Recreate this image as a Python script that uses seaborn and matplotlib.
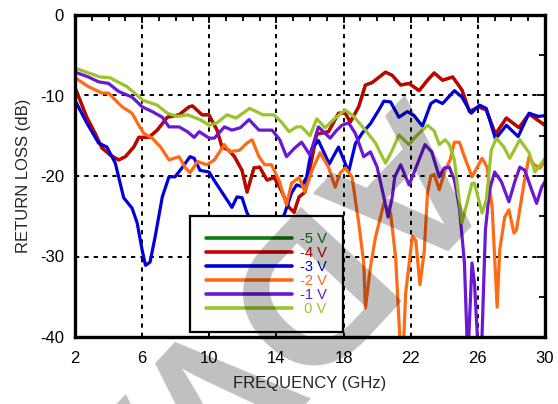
import matplotlib
matplotlib.use("Agg")
import matplotlib.pyplot as plt
import seaborn as sns
import pandas as pd
from matplotlib.ticker import MultipleLocator

# Return loss of the varactor-tuned device versus frequency, for each bias voltage
bias_labels = ["-5 V", "-4 V", "-3 V", "-2 V", "-1 V", " 0 V"]
bias_colors = ["#0f7a0f", "#c80000", "#0000d8", "#ff6a14", "#6a18d2", "#99c42c"]

freq_m5 = [2.0, 2.7, 3.2, 3.6, 4.1, 4.6, 5.0, 5.5, 5.8, 6.4, 6.9, 7.5, 8.2, 8.8, 9.0, 9.57, 9.98,
           10.46, 10.76, 11.17, 11.5, 11.95, 12.25, 12.66, 13.0, 13.44, 13.86, 14.2, 14.75, 15.05,
           15.35, 15.7, 16.0, 16.4, 17.1, 17.7, 18.1, 18.4, 18.9, 19.3, 19.7, 20.5, 20.9, 21.4,
           21.9, 22.5, 23.0, 23.4, 23.9, 24.5, 25.05, 25.5, 26.05, 26.5, 27.05, 27.7, 28.45,
           29.05, 30.0]
loss_m5 = [-9.0, -12.7, -14.7, -16.5, -17.4, -18.0, -17.6, -16.4, -15.2, -15.2, -14.3, -12.7,
           -12.4, -11.4, -11.3, -12.4, -12.4, -14.3, -16.4, -16.8, -17.6, -19.3, -22.0, -19.0,
           -18.9, -20.5, -20.2, -21.4, -23.9, -24.5, -22.6, -22.0, -19.0, -14.8, -14.5, -12.2,
           -12.2, -13.3, -11.4, -8.7, -8.4, -7.1, -7.5, -8.7, -8.5, -9.4, -8.1, -7.2, -8.1,
           -7.7, -9.3, -12.0, -11.4, -11.8, -14.8, -12.8, -14.0, -12.3, -13.7]

freq_m4 = [2.0, 2.7, 3.2, 3.6, 4.1, 4.6, 5.0, 5.5, 5.8, 6.4, 6.9, 7.5, 8.2, 8.8, 9.0, 9.57, 9.98,
           10.46, 10.76, 11.17, 11.5, 11.95, 12.25, 12.66, 13.0, 13.44, 13.86, 14.2, 14.75, 15.05,
           15.35, 15.7, 16.0, 16.4, 17.1, 17.7, 18.1, 18.4, 18.9, 19.3, 19.7, 20.5, 20.9, 21.4,
           21.9, 22.5, 23.0, 23.4, 23.9, 24.5, 25.05, 25.5, 26.05, 26.5, 27.05, 27.7, 28.45,
           29.05, 30.0]
loss_m4 = [-9.0, -12.7, -14.7, -16.5, -17.4, -18.0, -17.6, -16.4, -15.2, -15.2, -14.3, -12.7,
           -12.4, -11.4, -11.3, -12.4, -12.4, -14.3, -16.4, -16.8, -17.6, -19.3, -22.0, -19.0,
           -18.9, -20.5, -20.2, -21.4, -23.9, -24.5, -22.6, -22.0, -19.0, -14.8, -14.5, -12.2,
           -12.2, -13.3, -11.4, -8.7, -8.4, -7.1, -7.5, -8.7, -8.5, -9.4, -8.1, -7.2, -8.1,
           -7.7, -9.3, -12.0, -11.4, -11.8, -14.8, -12.8, -14.0, -12.3, -13.7]

freq_m3 = [2.0, 2.7, 3.4, 3.9, 4.4, 4.9, 5.4, 5.7, 6.0, 6.2, 6.47, 6.77, 7.2, 7.6, 7.96, 8.37,
           8.85, 9.1, 9.45, 9.98, 10.34, 10.94, 11.35, 11.65, 11.95, 12.25, 12.8, 13.5, 14.2,
           14.5, 14.9, 15.2, 15.5, 15.8, 16.1, 16.5, 17.15, 17.7, 18.3, 18.7, 19.1, 19.6, 20.1,
           20.4, 20.8, 21.3, 21.8, 22.2, 22.7, 23.2, 23.5, 23.9, 24.6, 25.05, 25.6, 26.1, 26.5,
           27.05, 27.7, 28.4, 29.05, 29.6, 30.0]
loss_m3 = [-10.6, -13.4, -15.9, -16.4, -18.4, -22.7, -24.0, -25.8, -29.2, -31.1, -30.7, -27.6,
           -22.6, -20.1, -20.1, -19.0, -17.6, -17.8, -19.3, -19.5, -20.7, -22.6, -23.9, -22.6,
           -22.7, -24.6, -26.5, -27.0, -26.0, -24.6, -22.1, -21.1, -21.3, -20.1, -16.6, -15.6,
           -18.5, -16.4, -19.5, -16.0, -14.7, -13.5, -11.8, -10.7, -10.8, -12.7, -12.0, -12.5,
           -13.8, -11.0, -10.6, -11.0, -9.4, -10.2, -12.2, -11.2, -11.6, -15.4, -13.7, -15.1,
           -12.2, -12.6, -12.5]

freq_m2 = [2.0, 2.8, 3.6, 4.0, 4.8, 5.4, 5.8, 6.1, 6.6, 7.1, 7.6, 8.2, 8.55, 8.85, 9.3, 9.86,
           10.3, 10.9, 11.2, 11.8, 12.25, 12.55, 12.96, 13.3, 13.7, 14.15, 14.6, 14.9, 15.35,
           15.7, 16.1, 16.6, 17.1, 17.5, 17.8, 18.1, 18.5, 18.9, 19.2, 19.3, 19.6, 19.9, 20.2,
           20.4, 20.8, 21.1, 21.4, 21.55, 21.7, 22.1, 22.3, 22.55, 22.8, 23.0, 23.2, 23.4, 23.7,
           24.05, 24.35, 24.6, 24.9, 25.2, 25.65, 26.25, 26.55, 26.85, 27.15, 27.3, 27.6, 27.85,
           28.15, 28.3, 28.75, 29.05, 29.35, 29.7, 30.0]
loss_m2 = [-7.8, -8.9, -9.7, -9.7, -11.4, -12.2, -13.7, -14.7, -15.3, -16.4, -18.0, -17.6,
           -18.9, -19.6, -18.2, -18.6, -18.0, -16.1, -17.0, -16.8, -15.9, -15.5, -17.6, -18.6,
           -18.6, -20.5, -23.6, -20.9, -20.2, -22.0, -19.4, -17.1, -18.9, -21.4, -19.6, -19.0,
           -20.1, -25.8, -30.8, -36.4, -31.3, -27.6, -25.1, -23.4, -24.6, -30.1, -42.0, -42.0,
           -34.5, -27.5, -28.0, -33.5, -29.5, -22.1, -20.0, -19.8, -21.7, -19.3, -18.0, -15.8,
           -15.8, -17.6, -20.1, -17.8, -18.9, -23.9, -36.3, -29.2, -25.1, -24.2, -27.1, -26.7,
           -20.9, -17.6, -18.6, -19.0, -18.0]

freq_m1 = [2.0, 2.8, 3.4, 4.0, 4.6, 5.4, 6.0, 6.6, 7.2, 7.6, 8.2, 8.7, 9.1, 9.4, 10.0, 10.3,
           10.9, 11.35, 11.85, 12.37, 12.96, 13.74, 14.2, 14.6, 15.1, 15.5, 16.0, 16.5, 17.0,
           17.2, 17.6, 17.9, 18.3, 18.7, 19.2, 19.6, 20.0, 20.3, 20.65, 20.9, 21.05, 21.4, 21.9,
           22.25, 22.85, 23.25, 23.7, 24.0, 24.3, 24.6, 24.9, 25.2, 25.4, 25.65, 25.8, 26.05,
           26.2, 26.45, 26.7, 27.0, 27.4, 27.85, 28.2, 28.5, 28.8, 29.2, 29.5, 29.8, 30.0]
loss_m1 = [-7.1, -7.7, -8.3, -8.5, -9.5, -10.2, -11.4, -12.0, -12.7, -13.9, -13.9, -14.5,
           -15.2, -14.5, -15.3, -15.3, -13.9, -14.3, -14.0, -13.0, -14.3, -14.3, -15.5, -17.6,
           -16.5, -15.8, -17.4, -13.9, -14.9, -15.3, -14.3, -13.7, -13.4, -14.7, -17.6, -17.0,
           -18.9, -21.7, -25.1, -22.6, -20.1, -18.6, -21.1, -19.3, -16.1, -17.0, -20.1, -19.0,
           -18.9, -20.5, -23.9, -30.8, -43.0, -30.8, -33.3, -43.0, -43.0, -26.7, -21.7, -19.5,
           -20.7, -23.2, -20.7, -18.9, -19.3, -21.7, -23.4, -21.4, -20.7]

freq_0 = [2.0, 3.49, 4.09, 5.1, 6.05, 6.9, 7.5, 8.1, 8.7, 9.45, 10.0, 10.46, 11.05, 11.6, 12.4,
          13.2, 13.85, 14.3, 14.75, 15.2, 15.5, 16.0, 16.4, 16.9, 17.5, 18.1, 18.6, 19.3, 19.9,
          20.5, 20.9, 21.3, 21.9, 22.25, 23.0, 23.4, 23.7, 24.05, 24.3, 24.6, 25.05, 25.35,
          25.65, 25.8, 26.25, 26.5, 26.8, 27.1, 27.55, 27.9, 28.5, 29.05, 29.4, 29.8, 30.0]
loss_0 = [-6.6, -7.7, -7.8, -8.9, -10.6, -11.2, -12.2, -12.6, -12.4, -13.0, -13.7, -13.4,
          -12.4, -12.8, -11.6, -12.4, -12.4, -13.3, -14.5, -13.9, -13.9, -15.0, -12.9, -14.0,
          -12.8, -11.8, -12.6, -14.3, -15.9, -18.4, -16.8, -14.9, -16.1, -15.2, -13.7, -14.4,
          -16.1, -15.5, -16.1, -18.0, -25.8, -23.4, -20.9, -20.9, -24.6, -23.0, -16.8, -15.3,
          -16.4, -17.8, -15.5, -17.1, -19.5, -18.4, -17.8]

x_ticks = [2, 6, 10, 14, 18, 22, 26, 30]
y_ticks = [-40, -30, -20, -10, 0]

series = [(freq_m5, loss_m5), (freq_m4, loss_m4), (freq_m3, loss_m3),
          (freq_m2, loss_m2), (freq_m1, loss_m1), (freq_0, loss_0)]
frames = []
for label, (f, l) in zip(bias_labels, series):
    frames.append(pd.DataFrame({"freq": f, "loss": l, "bias": label}))
df = pd.concat(frames, ignore_index=True)

sns.set_style("white")
plt.rcParams["font.family"] = ["Liberation Sans", "DejaVu Sans"]
plt.rcParams["axes.unicode_minus"] = False

fig = plt.figure(figsize=(5.58, 4.04), dpi=100)
ax = fig.add_axes([75 / 558, 67 / 404, 470 / 558, 322 / 404])

sns.lineplot(data=df, x="freq", y="loss", hue="bias", hue_order=bias_labels,
             palette=bias_colors, estimator=None, sort=True, linewidth=2.3,
             ax=ax, legend=True)

ax.set_xlim(2, 30)
ax.set_ylim(-40, 0)
ax.set_xticks(x_ticks)
ax.set_yticks(y_ticks)
ax.xaxis.set_minor_locator(MultipleLocator(1))
ax.yaxis.set_minor_locator(MultipleLocator(5))
ax.tick_params(which="both", direction="in", top=True, right=True, colors="black",
               labelsize=12)
ax.tick_params(which="major", length=6, width=1.3)
ax.tick_params(which="minor", length=4, width=1.3)
ax.tick_params(axis="x", pad=10)
ax.tick_params(axis="y", pad=8)

for s in ax.spines.values():
    s.set_color("black")
    s.set_linewidth(2.4)

ax.grid(False)
for xv in x_ticks[1:-1]:
    ax.axvline(xv, color="black", linestyle=(0, (2.2, 2.6)), linewidth=1.4, zorder=1)
for yv in y_ticks[1:-1]:
    ax.axhline(yv, color="black", linestyle=(0, (2.2, 2.6)), linewidth=1.4, zorder=1)

ax.set_xlabel("FREQUENCY (GHz)", fontsize=12, labelpad=7)
ax.set_ylabel("RETURN LOSS (dB)", fontsize=12, labelpad=6)

handles, labels = ax.get_legend_handles_labels()
for h in handles:
    h.set_linewidth(2.6)
leg = ax.legend(handles, labels, loc="lower left", bbox_to_anchor=(0.2447, 0.0155),
                borderaxespad=0, frameon=True, fancybox=False, framealpha=1,
                edgecolor="black", fontsize=10.5, handlelength=5.9, handletextpad=0.55,
                labelspacing=0.0, borderpad=1.1, labelcolor="linecolor")
leg.get_frame().set_linewidth(1.6)

# Large translucent watermark lettering across the figure
fig.text(399 / 558, 1 - 93 / 404, "ADVANCE", rotation=227, rotation_mode="anchor",
         ha="left", va="baseline", fontsize=145, fontweight="bold", color="black",
         alpha=0.25, zorder=10, family="Liberation Sans")

fig.savefig("out.png", dpi=100)
